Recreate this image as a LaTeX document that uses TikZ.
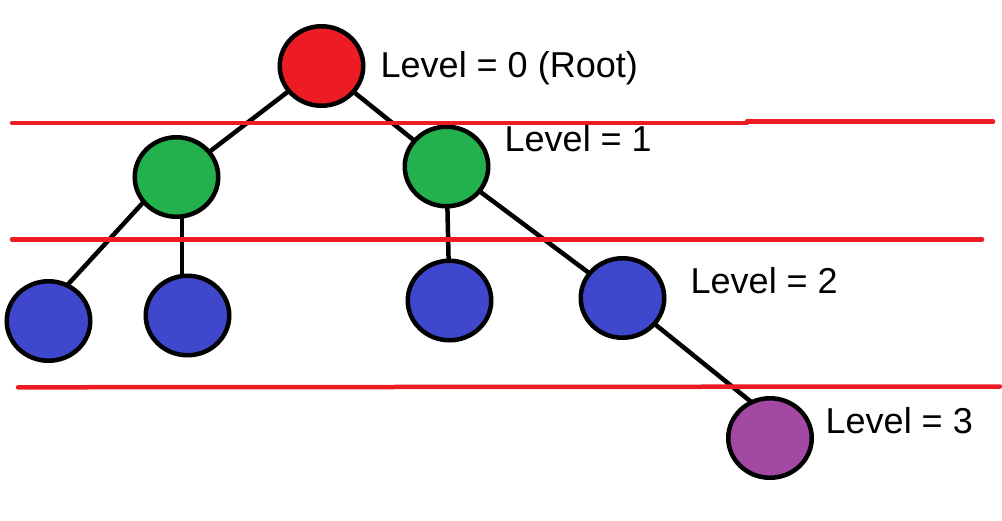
\documentclass[tikz,border=0pt]{standalone}
\usepackage{fontspec}
\setmainfont{Liberation Sans}
\usetikzlibrary{shapes.geometric,backgrounds}
\definecolor{paintred}{HTML}{ED1C24}
\definecolor{paintgreen}{HTML}{22B14C}
\definecolor{paintblue}{HTML}{3F48CC}
\definecolor{paintpurple}{HTML}{A349A4}
\begin{document}
\begin{tikzpicture}[x=1pt,y=-1pt,
  treenode/.style={ellipse, draw=black, line width=4.5pt, minimum width=83.5pt,
    minimum height=79.5pt, inner sep=0pt},
  branch/.style={draw=black, line width=4.5pt, line cap=round},
  levelline/.style={draw=paintred, line width=4.5pt, line cap=round},
  levellabel/.style={anchor=base west, inner sep=0pt,
    font=\fontsize{36}{40}\selectfont}]
\useasboundingbox (0,0) rectangle (1002,520);

% tree nodes
\node[treenode, fill=paintred]    (root) at (321.5,66)  {};
\node[treenode, fill=paintgreen]  (gl)   at (176.5,177) {};
\node[treenode, fill=paintgreen]  (gr)   at (446.5,166.5) {};
\node[treenode, fill=paintblue]   (b1)   at (48.5,321)  {};
\node[treenode, fill=paintblue]   (b2)   at (187.5,315.5) {};
\node[treenode, fill=paintblue]   (b3)   at (449.5,300.5) {};
\node[treenode, fill=paintblue]   (b4)   at (622.5,298) {};
\node[treenode, fill=paintpurple] (p)    at (770,438)   {};

% branches, kept under the node fills
\begin{scope}[on background layer]
  \draw[branch] (root.center) -- (gl.center);
  \draw[branch] (root.center) -- (gr.center);
  \draw[branch] ([xshift=-10pt]gl.center) -- ([xshift=18pt,yshift=35pt]b1.center);
  \draw[branch] ([xshift=5.5pt]gl.center) -- ([xshift=-5.5pt]b2.center);
  \draw[branch] (gr.center) -- (b3.center);
  \draw[branch] (gr.center) -- (b4.center);
  \draw[branch] (b4.center) -- ([xshift=-15pt,yshift=33pt]p.center);
\end{scope}

% level separators
\coordinate (l1a) at (12,123);
\coordinate (l1b) at (747,123);
\coordinate (l1c) at (747,121.5);
\coordinate (l1d) at (993,121.5);
\coordinate (l2a) at (12,239.3);
\coordinate (l2b) at (982,239.3);
\coordinate (l3a) at (18,387.3);
\coordinate (l3b) at (1000,386.5);
\draw[levelline] (l1a) -- (l1b);
\draw[levelline] (l1c) -- (l1d);
\draw[levelline] (l2a) -- (l2b);
\draw[levelline] (l3a) -- (l3b);

% level labels
\node[levellabel] (t0) at (380.5,77)  {Level = 0 (Root)};
\node[levellabel] (t1) at (504.5,151) {Level = 1};
\node[levellabel] (t2) at (690.5,293) {Level = 2};
\node[levellabel] (t3) at (825.5,433) {Level = 3};
\end{tikzpicture}
\end{document}
